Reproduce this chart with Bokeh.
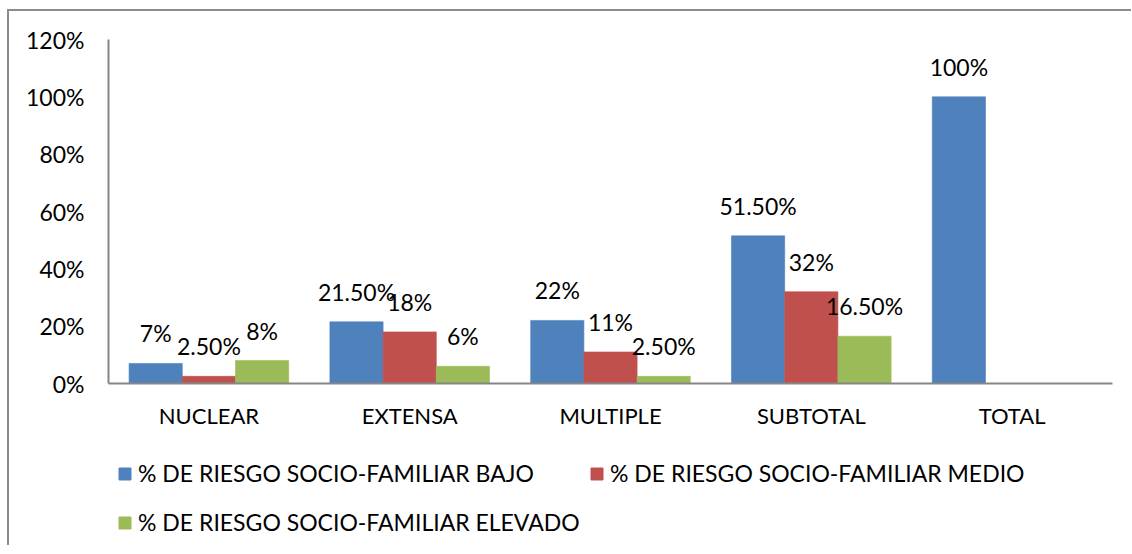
from bokeh.plotting import figure
from bokeh.layouts import column
from bokeh.models import ColumnDataSource, FactorRange, FixedTicker, Legend, LegendItem, Range1d
from bokeh.transform import dodge
from bokeh.core.properties import value
from bokeh.embed import file_html
from bokeh.resources import INLINE

categories = ["NUCLEAR", "EXTENSA", "MULTIPLE", "SUBTOTAL", "TOTAL"]
series_names = [
    "% DE RIESGO SOCIO-FAMILIAR BAJO",
    "% DE RIESGO SOCIO-FAMILIAR MEDIO",
    "% DE RIESGO SOCIO-FAMILIAR ELEVADO",
]
bajo = [7, 21.5, 22, 51.5, 100]
medio = [2.5, 18, 11, 32, None]
elevado = [8, 6, 2.5, 16.5, None]
bajo_labels = ["7%", "21.50%", "22%", "51.50%", "100%"]
medio_labels = ["2.50%", "18%", "11%", "32%", None]
elevado_labels = ["8%", "6%", "2.50%", "16.50%", None]
y_ticks = [0, 20, 40, 60, 80, 100, 120]

colors = ["#4F81BD", "#C0504D", "#9BBB59"]
offsets = [-0.265, 0.0, 0.265]
FONT = "Lato"
FS = "23px"

p = figure(
    x_range=FactorRange(*categories),
    y_range=(0, 120),
    frame_width=1004,
    frame_height=344,
    min_border_left=99,
    min_border_top=28,
    min_border_right=19,
    min_border_bottom=62,
    output_backend="svg",
    toolbar_location=None,
)
p.outline_line_color = None
p.xgrid.grid_line_color = None
p.ygrid.grid_line_color = None

# legend strip below the chart (key renderers are hidden; they only feed the legend)
lg = figure(
    x_range=p.x_range, y_range=Range1d(-2, -1),
    frame_width=1004, frame_height=95,
    min_border_left=99, min_border_right=19, min_border_top=5, min_border_bottom=0,
    x_axis_location=None, y_axis_location=None,
    output_backend="svg", toolbar_location=None,
)
lg.outline_line_color = None
lg.xgrid.grid_line_color = None
lg.ygrid.grid_line_color = None

key_renderers = []
for vals, labs, col, off in zip([bajo, medio, elevado],
                                [bajo_labels, medio_labels, elevado_labels],
                                colors, offsets):
    xs = [c for c, v in zip(categories, vals) if v is not None]
    ys = [v for v in vals if v is not None]
    ls = [l for l, v in zip(labs, vals) if v is not None]
    src = ColumnDataSource(dict(x=xs, y=ys, label=ls))
    p.vbar(x=dodge("x", off, range=p.x_range), top="y", width=0.265,
           source=src, fill_color=col, line_color=col, line_alpha=0.6)
    p.text(x=dodge("x", off, range=p.x_range), y="y", text="label", source=src,
           text_align="center", text_baseline="alphabetic", y_offset=-30,
           text_font=value(FONT), text_font_size=FS, text_color="#000000")
    key_renderers.append(
        lg.vbar(x=dodge("x", off, range=p.x_range), top="y", width=0.265,
                source=src, fill_color=col, line_color=col, visible=False))

p.yaxis.ticker = FixedTicker(ticks=y_ticks)
p.yaxis.major_label_overrides = {t: f"{t}%" for t in y_ticks}
for ax in (p.xaxis, p.yaxis):
    ax.axis_line_color = "#868686"
    ax.axis_line_width = 2
    ax.major_tick_line_color = None
    ax.minor_tick_line_color = None
    ax.major_label_text_font = FONT
    ax.major_label_text_font_size = FS
    ax.major_label_text_color = "#000000"
p.xaxis.major_label_text_font_size = "22px"
p.yaxis.major_label_standoff = 18
p.xaxis.major_label_standoff = 12

common = dict(
    glyph_width=15, glyph_height=15, label_standoff=6, label_height=28,
    padding=0, margin=9, border_line_color=None, background_fill_alpha=0,
    label_text_font=FONT, label_text_font_size="23px", label_text_color="#000000",
)
legend_a = Legend(
    items=[LegendItem(label=series_names[i], renderers=[key_renderers[i]]) for i in (0, 1)],
    location="top_left", orientation="horizontal", spacing=0, label_width=451, **common)
legend_b = Legend(
    items=[LegendItem(label=series_names[2], renderers=[key_renderers[2]])],
    location="bottom_left", orientation="horizontal", **common)
lg.add_layout(legend_a, "center")
lg.add_layout(legend_b, "center")

layout = column(p, lg, spacing=0,
                styles={"margin-left": "7px", "margin-top": "9px",
                        "border-left": "2px solid #8c8c8c",
                        "border-top": "2px solid #8c8c8c"})

open("out.html", "w").write(file_html(layout, INLINE))
